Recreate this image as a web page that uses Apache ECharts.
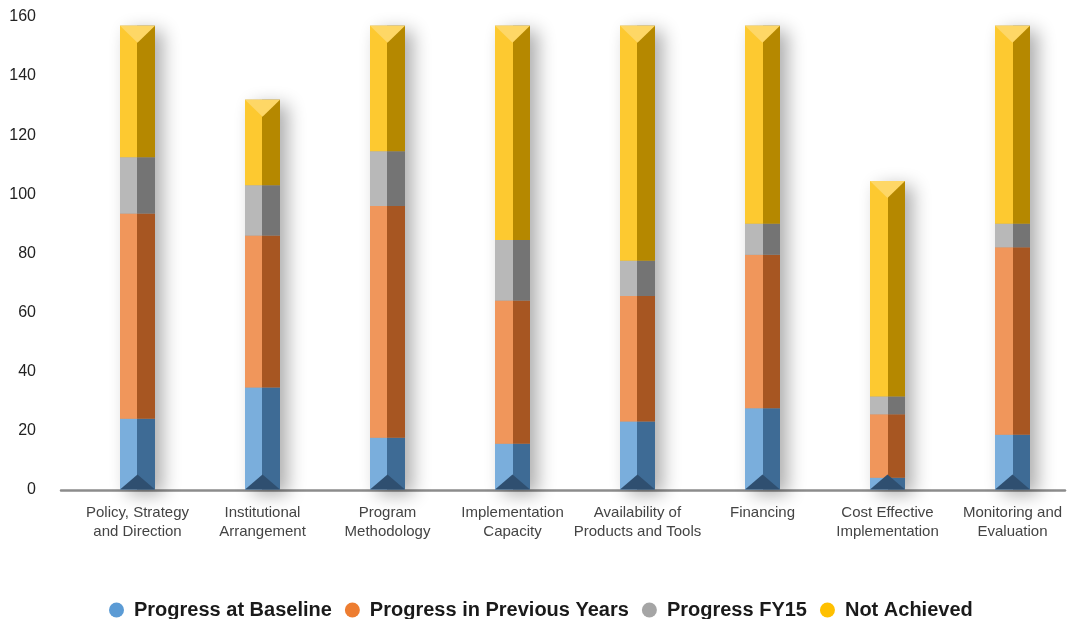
<!DOCTYPE html>
<html>
<head>
<meta charset="utf-8">
<script src="https://cdn.jsdelivr.net/npm/echarts@6/dist/echarts.min.js"></script>
<style>
  html, body { margin: 0; padding: 0; background: #ffffff; overflow: hidden; }
  #chart { width: 1076px; height: 619px; }
</style>
</head>
<body>
<div id="chart"></div>
<script>
// Progress by area, stacked by status
const categories = [
  'Policy, Strategy\nand Direction',
  'Institutional\nArrangement',
  'Program\nMethodology',
  'Implementation\nCapacity',
  'Availability of\nProducts and Tools',
  'Financing',
  'Cost Effective\nImplementation',
  'Monitoring and\nEvaluation'
];
const seriesNames = ['Progress at Baseline', 'Progress in Previous Years', 'Progress FY15', 'Not Achieved'];
const baseline      = [24, 34.5, 17.5, 15.5, 23, 27.5, 4, 18.5];
const previousYears = [69.5, 51.5, 78.5, 48.5, 42.5, 52, 21.5, 63.5];
const fy15          = [19, 17, 18.5, 20.5, 12, 10.5, 6, 8];
const notAchieved   = [44.5, 29, 42.5, 72.5, 79.5, 67, 73, 67];
const yTicks = { min: 0, max: 160, interval: 20 };

const seriesValues = [baseline, previousYears, fy15, notAchieved];
const legendColors = ['#5b9bd5', '#ed7d31', '#a5a5a5', '#ffc000'];
// light (front-left face) and dark (right face) tones for each segment
const faceColors = [
  ['#7aaedc', '#3e6b95'],
  ['#f0965b', '#a75622'],
  ['#b8b8b8', '#747474'],
  ['#fdc930', '#b58800']
];
const totals = categories.map((_, i) => seriesValues.reduce((s, arr) => s + arr[i], 0));

const font = "'Liberation Sans', Arial, Helvetica, sans-serif";
const BAR_W = 35;

function faceGradient(light, dark) {
  return new echarts.graphic.LinearGradient(0, 0, 1, 0, [
    { offset: 0, color: light },
    { offset: 0.5, color: light },
    { offset: 0.5, color: dark },
    { offset: 1, color: dark }
  ]);
}

const barSeries = seriesNames.map((name, k) => ({
  name: name,
  type: 'bar',
  stack: 'total',
  barWidth: BAR_W,
  xAxisIndex: 0,
  yAxisIndex: 0,
  z: 3,
  itemStyle: { color: faceGradient(faceColors[k][0], faceColors[k][1]) },
  emphasis: { disabled: true },
  data: seriesValues[k]
}));

// soft drop shadow behind each full column
const shadowSeries = {
  type: 'custom',
  name: 'shadow',
  xAxisIndex: 0,
  yAxisIndex: 0,
  z: 1,
  silent: true,
  data: totals.map((t, i) => [i, t]),
  renderItem: function (params, api) {
    const top = api.coord([api.value(0), api.value(1)]);
    const base = api.coord([api.value(0), 0]);
    return {
      type: 'rect',
      shape: { x: top[0] - BAR_W / 2, y: top[1], width: BAR_W, height: base[1] - top[1] },
      style: {
        fill: '#a0a0a0',
        shadowBlur: 18,
        shadowOffsetX: 8,
        shadowOffsetY: 5,
        shadowColor: 'rgba(0,0,0,0.32)'
      }
    };
  }
};

// bevelled top face and dark bottom facet of each column
const capSeries = {
  type: 'custom',
  name: 'caps',
  xAxisIndex: 0,
  yAxisIndex: 0,
  z: 5,
  silent: true,
  data: totals.map((t, i) => [i, t]),
  renderItem: function (params, api) {
    const top = api.coord([api.value(0), api.value(1)]);
    const base = api.coord([api.value(0), 0]);
    const l = top[0] - BAR_W / 2, r = top[0] + BAR_W / 2, c = top[0];
    return {
      type: 'group',
      children: [
        {
          type: 'polygon',
          shape: { points: [[l, top[1]], [r, top[1]], [c, top[1] + 17]] },
          style: { fill: '#fed766' }
        },
        {
          type: 'polygon',
          shape: { points: [[l, base[1]], [r, base[1]], [c, base[1] - 15]] },
          style: { fill: '#2f4f70' }
        }
      ]
    };
  }
};

const option = {
  backgroundColor: '#ffffff',
  animation: false,
  grid: [
    { left: 75, width: 1000, top: 17, bottom: 129.5 },
    { left: 61, width: 1004, top: 17, bottom: 129 }
  ],
  legend: {
    left: 104,
    top: 595,
    icon: 'circle',
    itemWidth: 15,
    itemHeight: 15,
    itemGap: 13,
    textStyle: { fontFamily: font, fontSize: 20, fontWeight: 'bold', color: '#1a1a1a', padding: [0, 0, 0, 5] },
    data: seriesNames.map((n, k) => ({ name: n, itemStyle: { color: legendColors[k] } })),
    selectedMode: false
  },
  xAxis: [
    {
      type: 'category',
      gridIndex: 0,
      data: categories,
      axisLine: { show: false },
      axisTick: { show: false },
      axisLabel: {
        margin: 14,
        fontFamily: font,
        fontSize: 15,
        color: '#444444',
        lineHeight: 19,
        interval: 0
      }
    },
    {
      // empty category axis that only draws the baseline rule
      type: 'category',
      gridIndex: 1,
      data: categories,
      axisLine: { show: true, lineStyle: { color: '#8c8c8c', width: 2.5 } },
      axisTick: { show: false },
      axisLabel: { show: false }
    }
  ],
  yAxis: [
    {
      type: 'value',
      gridIndex: 0,
      min: yTicks.min,
      max: yTicks.max,
      interval: yTicks.interval,
      axisLine: { show: false },
      axisTick: { show: false },
      splitLine: { show: false },
      axisLabel: { margin: 39, fontFamily: font, fontSize: 16, color: '#222222' }
    },
    {
      type: 'value',
      gridIndex: 1,
      min: yTicks.min,
      max: yTicks.max,
      show: false
    }
  ],
  series: [shadowSeries].concat(barSeries, [capSeries])
};

const chart = echarts.init(document.getElementById('chart'), null, { renderer: 'canvas' });
chart.setOption(option);
</script>
</body>
</html>
